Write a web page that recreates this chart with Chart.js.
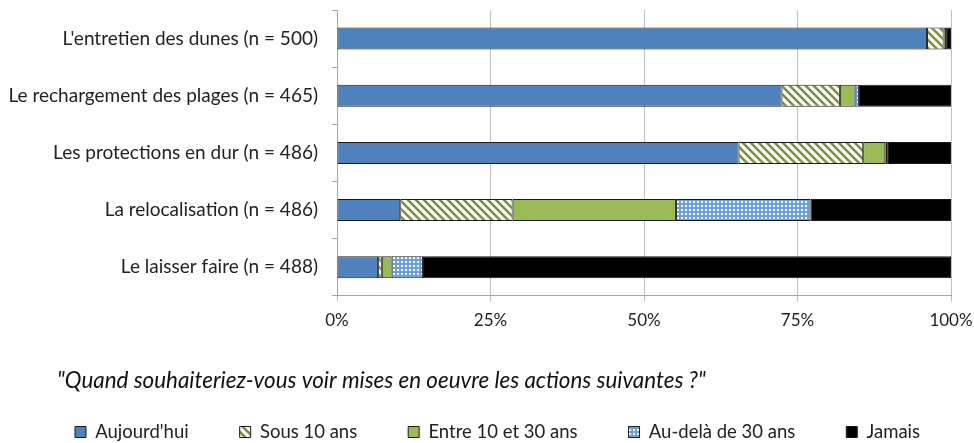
<!DOCTYPE html>
<html>
<head>
<meta charset="utf-8">
<script src="https://cdn.jsdelivr.net/npm/chart.js@4.4.1/dist/chart.umd.min.js"></script>
<style>
  html, body { margin: 0; padding: 0; background: #fff; }
  #wrap { width: 974px; height: 443px; }
</style>
</head>
<body>
<div id="wrap"><canvas id="chart"></canvas></div>
<script>
// ---- data (percent of respondents) ----
const categories = [
    "L'entretien des dunes (n = 500)",
    "Le rechargement des plages (n = 465)",
    "Les protections en dur (n = 486)",
    "La relocalisation (n = 486)",
    "Le laisser faire (n = 488)"
];
const seriesNames = ["Aujourd'hui", "Sous 10 ans", "Entre 10 et 30 ans", "Au-delà de 30 ans", "Jamais"];
const aujourdhui = [96.1, 72.4, 65.4, 10.3, 6.7];
const sous10     = [2.7, 9.5, 20.3, 18.3, 0.6];
const entre10_30 = [0.4, 2.4, 3.6, 26.6, 1.6];
const audela30   = [0, 0.7, 0.3, 21.9, 5.1];
const jamais     = [0.8, 15.0, 10.4, 22.9, 86.0];
const xTicks = [0, 25, 50, 75, 100];

const FONT = "Lato";

// ---- fill patterns ----
function hatchPattern(bg, fg) {
    const c = document.createElement("canvas");
    c.width = 8; c.height = 8;
    const g = c.getContext("2d");
    g.fillStyle = bg;
    g.fillRect(0, 0, 8, 8);
    g.strokeStyle = fg;
    g.lineWidth = 2.6;
    g.beginPath();
    g.moveTo(-2, -2); g.lineTo(10, 10);
    g.moveTo(-2, 6); g.lineTo(2, 10);
    g.moveTo(6, -2); g.lineTo(10, 2);
    g.stroke();
    return g.createPattern(c, "repeat");
}

function dotPattern(bg, fg) {
    const c = document.createElement("canvas");
    c.width = 4; c.height = 4;
    const g = c.getContext("2d");
    g.fillStyle = bg;
    g.fillRect(0, 0, 4, 4);
    g.fillStyle = fg;
    g.fillRect(1, 1, 2, 2);
    return g.createPattern(c, "repeat");
}

const fills = [
    "#4F81BD",
    hatchPattern("#ffffff", "#77933C"),
    "#9BBB59",
    dotPattern("#6A9FE0", "#ffffff"),
    "#000000"
];
const values = [aujourdhui, sous10, entre10_30, audela30, jamais];

// move the bottom title and legend to where the original has them
const blockNudge = {
    id: "blockNudge",
    afterLayout(chart) {
        const t = chart.titleBlock;
        t.left = 57;
        t.top += 27.8;
        t.bottom += 27.8;
        chart.legend.left = 24;
    }
};

const ctx = document.getElementById("chart");

new Chart(ctx, {
    type: "bar",
    data: {
        labels: categories,
        datasets: seriesNames.map((name, i) => ({
            label: name,
            data: values[i],
            backgroundColor: fills[i],
            borderColor: "#1a1a1a",
            borderWidth: 1,
            borderSkipped: false,
            barPercentage: 0.385,
            categoryPercentage: 1
        }))
    },
    options: {
        indexAxis: "y",
        responsive: true,
        maintainAspectRatio: false,
        animation: false,
        layout: { padding: { top: 10, left: 0, right: 0, bottom: -8.25 } },
        scales: {
            x: {
                stacked: true,
                min: 0,
                max: 100,
                afterBuildTicks: scale => { scale.ticks = xTicks.map(v => ({ value: v })); },
                afterFit: scale => {
                    scale.height = 44;
                    scale.paddingRight = 23;
                },
                grid: { color: "#BFBFBF", tickLength: 6 },
                border: { color: "#A6A6A6" },
                ticks: {
                    padding: 9,
                    color: "#222",
                    font: { family: FONT, size: 17 },
                    callback: v => v + "%"
                }
            },
            y: {
                stacked: true,
                afterFit: scale => {
                    scale.width = 337;
                    scale.paddingTop = 0;
                    scale.paddingBottom = 0;
                },
                grid: { drawOnChartArea: false, tickLength: 5, color: "#A6A6A6" },
                border: { color: "#A6A6A6" },
                ticks: {
                    padding: 14,
                    color: "#222",
                    font: { family: FONT, size: 19 }
                }
            }
        },
        plugins: {
            tooltip: { enabled: false },
            title: {
                display: true,
                position: "bottom",
                align: "start",
                weight: 500,
                text: "\"Quand souhaiteriez-vous voir mises en oeuvre les actions suivantes ?\"",
                color: "#111",
                font: { family: FONT, size: 22.4, style: "italic", weight: "normal" },
                padding: { top: 0, bottom: 5.1 }
            },
            legend: {
                position: "bottom",
                align: "start",
                weight: 1000,
                labels: {
                    boxWidth: 11,
                    boxHeight: 11,
                    padding: 51,
                    color: "#222",
                    font: { family: FONT, size: 18.5 }
                }
            }
        }
    },
    plugins: [blockNudge]
});
</script>
</body>
</html>
